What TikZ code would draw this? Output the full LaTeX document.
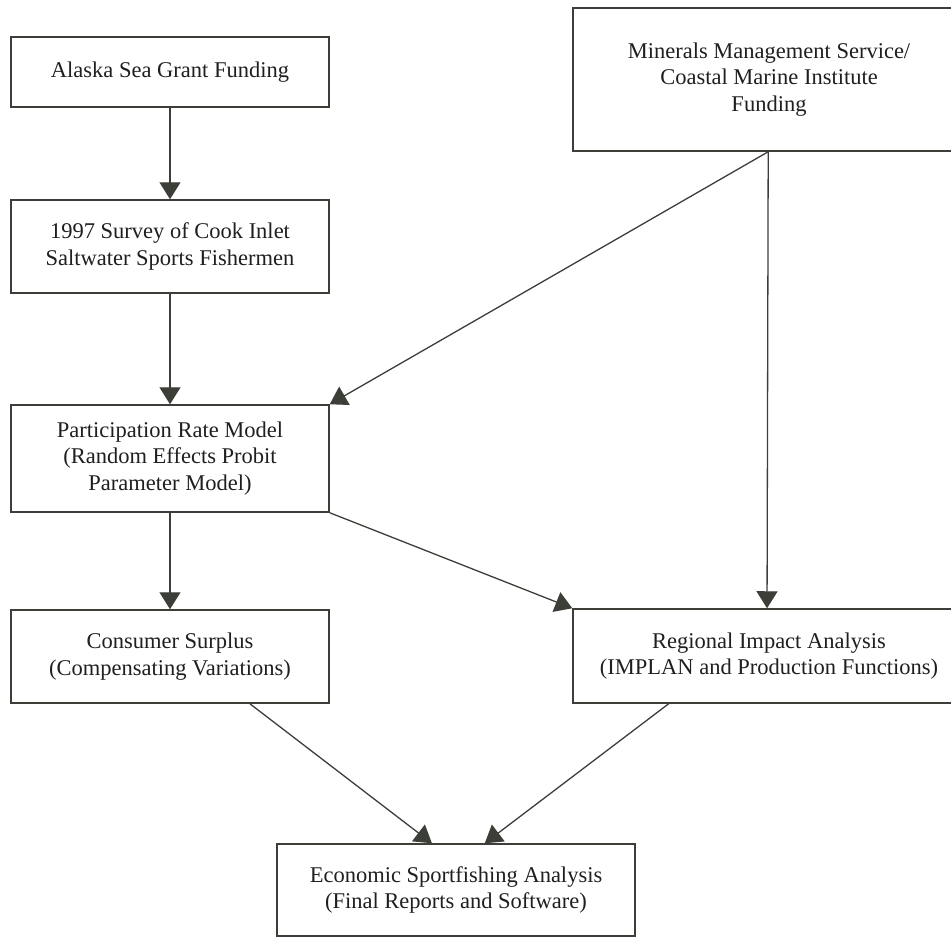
\documentclass[tikz,border=0pt]{standalone}
\usepackage{fontspec}
\setmainfont{Liberation Serif}
\usetikzlibrary{arrows.meta,calc}
\definecolor{linegray}{RGB}{60,62,56}

\begin{document}
\begin{tikzpicture}[x=1pt, y=-1pt, >={Triangle[length=17pt,width=21pt]},
    box/.style={draw=linegray, line width=1.5pt, align=center, inner sep=0pt, text=black!88,
      font=\fontsize{22.5}{26.5}\selectfont},
    flow/.style={->, draw=linegray, line width=1.3pt}]
  \useasboundingbox (0,0) rectangle (951,937);
  % funding sources
  \node[box, minimum width=318pt, minimum height=70pt] (alaska) at (170,72) {Alaska Sea Grant Funding};
  \node[box, minimum width=392pt, minimum height=143pt] (mms) at (769,79.5)
       {Minerals Management Service/\\ Coastal Marine Institute\\ Funding};
  % survey and models
  \node[box, minimum width=318pt, minimum height=93pt] (survey) at (170,246.5)
       {1997 Survey of Cook Inlet\\ Saltwater Sports Fishermen};
  \node[box, minimum width=318pt, minimum height=107pt] (partic) at (170,458.5)
       {Participation Rate Model\\ (Random Effects Probit\\ Parameter Model)};
  \node[box, minimum width=318pt, minimum height=93pt] (consumer) at (170,656.5)
       {Consumer Surplus\\ (Compensating Variations)};
  \node[box, minimum width=392pt, minimum height=94pt] (regional) at (769,656)
       {Regional Impact Analysis\\ (IMPLAN and Production Functions)};
  % result
  \node[box, minimum width=358pt, minimum height=92pt] (econ) at (456,890)
       {Economic Sportfishing Analysis\\ (Final Reports and Software)};
  % connectors
  \draw[flow] (alaska.south) -- (survey.north);
  \draw[flow] (survey.south) -- (partic.north);
  \draw[flow] (partic.south) -- (consumer.north);
  \draw[flow] ($(mms.south west)!0.498!(mms.south east)$) -- (partic.north east);
  \draw[flow] ($(mms.south west)!0.498!(mms.south east)$) -- ($(regional.north west)!0.495!(regional.north east)$);
  \draw[flow] (partic.south east) -- (regional.north west);
  \draw[flow] ($(consumer.south west)!0.75!(consumer.south east)$) -- ($(econ.north west)!0.433!(econ.north east)$);
  \draw[flow] ($(regional.south west)!0.245!(regional.south east)$) -- ($(econ.north west)!0.58!(econ.north east)$);
\end{tikzpicture}
\end{document}
